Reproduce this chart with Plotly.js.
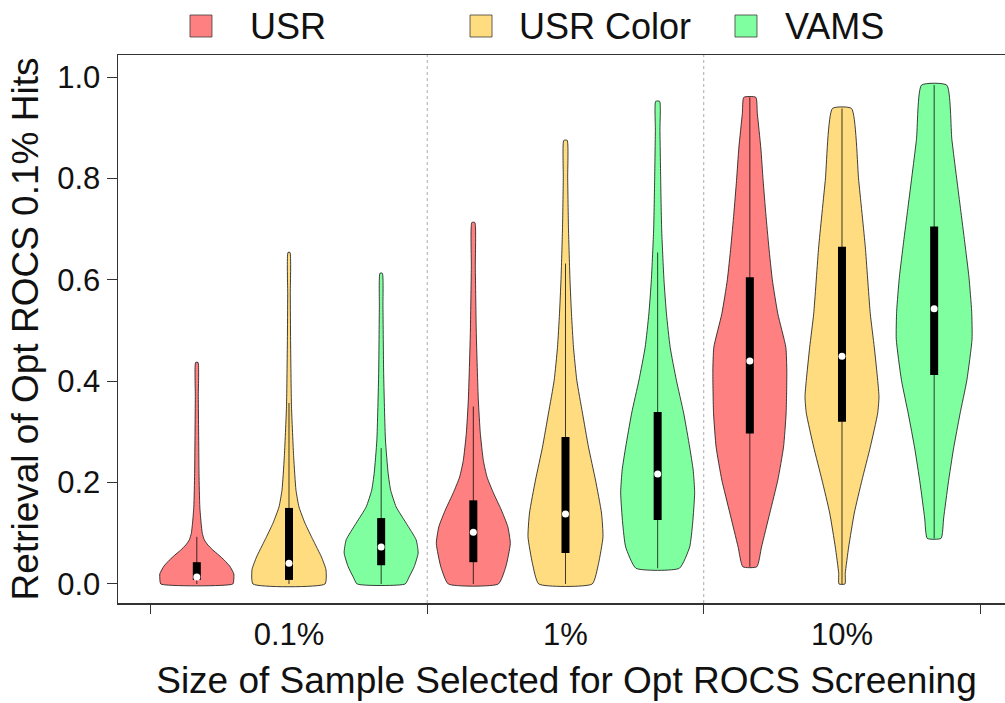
<!DOCTYPE html>
<html>
<head>
<meta charset="utf-8">
<script src="https://cdn.plot.ly/plotly-3.0.1.min.js"></script>
<style>
html,body{margin:0;padding:0;overflow:hidden;background:#fff;}
#chart{width:1015px;height:703px;}
</style>
</head>
<body>
<div id="chart"></div>
<script>
// ---- categories / series ----
const groups = ['0.1%', '1%', '10%'];
const seriesNames = ['USR', 'USR Color', 'VAMS'];
const seriesColors = ['#FF8080', '#FFDC80', '#80FFA0'];

// ---- violin density profiles (value levels, relative half-width) ----
// USR
const usr_g1_y = [0, 0.01, 0.02, 0.035, 0.047, 0.057, 0.067, 0.077, 0.087, 0.1, 0.12, 0.152, 0.218, 0.3, 0.37, 0.437];
const usr_g1_w = [36, 37, 37, 33, 27.5, 22, 16, 11, 7.5, 5.5, 4.3, 3, 2.2, 1.8, 1.5, 1.2];
const usr_g2_y = [0, 0.034, 0.08, 0.113, 0.146, 0.18, 0.211, 0.244, 0.297, 0.363, 0.494, 0.625, 0.713];
const usr_g2_w = [25, 32.5, 37, 34.5, 28, 20, 13.7, 10, 7, 5, 3, 2, 1.5];
const usr_g3_y = [0.034, 0.073, 0.14, 0.205, 0.27, 0.337, 0.42, 0.467, 0.533, 0.6, 0.665, 0.73, 0.796, 0.86, 0.928, 0.96];
const usr_g3_w = [7, 11.7, 20, 28, 33.7, 36.3, 37, 36, 28, 22.5, 19, 16, 13.3, 11, 7.5, 6];
// USR Color
const usrc_g1_y = [0, 0.028, 0.053, 0.087, 0.12, 0.152, 0.185, 0.25, 0.35, 0.48, 0.57, 0.654];
const usrc_g1_w = [36, 37, 32.5, 24, 16, 10, 7, 4.7, 2.5, 1.6, 1.3, 1];
const usrc_g2_y = [0, 0.04, 0.093, 0.14, 0.205, 0.27, 0.337, 0.402, 0.467, 0.533, 0.6, 0.7, 0.8, 0.875];
const usrc_g2_w = [26.7, 33, 37.5, 36, 30, 23, 17, 11.3, 8, 6, 4.5, 3, 2.2, 1.7];
const usrc_g3_y = [0, 0.021, 0.073, 0.14, 0.205, 0.27, 0.337, 0.369, 0.402, 0.467, 0.533, 0.665, 0.796, 0.938];
const usrc_g3_w = [3, 3.3, 6.7, 12.3, 20, 28.3, 35.7, 37, 35.7, 32.3, 28.3, 23.3, 16.7, 9.5];
// VAMS
const vams_g1_y = [0, 0.014, 0.034, 0.061, 0.087, 0.12, 0.152, 0.185, 0.218, 0.284, 0.415, 0.546, 0.613];
const vams_g1_w = [24, 28, 33, 37, 35, 25, 15, 9.5, 7, 4.3, 2.5, 1.8, 1.2];
const vams_g2_y = [0.031, 0.073, 0.12, 0.18, 0.225, 0.27, 0.337, 0.402, 0.467, 0.533, 0.6, 0.7, 0.8, 0.895, 0.952];
const vams_g2_w = [21.7, 32, 35, 37, 35.5, 32, 26, 18.7, 12.5, 8.8, 6.3, 4, 3, 2.3, 2];
const vams_g3_y = [0.09, 0.13, 0.199, 0.266, 0.335, 0.402, 0.483, 0.538, 0.605, 0.674, 0.741, 0.877, 0.984];
const vams_g3_w = [6.9, 9.5, 14.1, 19.3, 25.8, 32.7, 37.9, 37.5, 34.8, 30.6, 26.3, 17.7, 12.6];

// ---- box statistics per group (0.1%, 1%, 10%) ----
const usr_q1  = [0.008, 0.043, 0.297];
const usr_med = [0.014, 0.102, 0.44];
const usr_q3  = [0.043, 0.165, 0.605];
const usr_wlo = [0, 0, 0.034];
const usr_whi = [0.093, 0.35, 0.96];

const usrc_q1  = [0.008, 0.061, 0.32];
const usrc_med = [0.041, 0.138, 0.449];
const usrc_q3  = [0.15, 0.29, 0.665];
const usrc_wlo = [0, 0, 0];
const usrc_whi = [0.357, 0.632, 0.938];

const vams_q1  = [0.037, 0.126, 0.412];
const vams_med = [0.073, 0.217, 0.543];
const vams_q3  = [0.13, 0.339, 0.705];
const vams_wlo = [0, 0.031, 0.09];
const vams_whi = [0.268, 0.654, 0.984];

const yTicks = [0, 0.2, 0.4, 0.6, 0.8, 1.0];

// ---- assemble ----
const profiles = [
  [[usr_g1_y, usr_g1_w], [usr_g2_y, usr_g2_w], [usr_g3_y, usr_g3_w]],
  [[usrc_g1_y, usrc_g1_w], [usrc_g2_y, usrc_g2_w], [usrc_g3_y, usrc_g3_w]],
  [[vams_g1_y, vams_g1_w], [vams_g2_y, vams_g2_w], [vams_g3_y, vams_g3_w]]
];
const stats = [
  {q1: usr_q1, med: usr_med, q3: usr_q3, lo: usr_wlo, hi: usr_whi},
  {q1: usrc_q1, med: usrc_med, q3: usrc_q3, lo: usrc_wlo, hi: usrc_whi},
  {q1: vams_q1, med: vams_med, q3: vams_q3, lo: vams_wlo, hi: vams_whi}
];

const widthScale = 1 / 276.5;   // relative width -> x-axis units
const offset = 1 / 3;           // dodge between series within a group

const traces = [];
const wx = [], wy = [], bx = [], by = [], mx = [], my = [];
for (let s = 0; s < seriesNames.length; s++) {
  for (let g = 0; g < groups.length; g++) {
    const c = (g + 1) + (s - 1) * offset;
    const [py, pw] = profiles[s][g];
    const xs = [], ys = [];
    for (let i = 0; i < py.length; i++) { xs.push(c - pw[i] * widthScale); ys.push(py[i]); }
    for (let i = py.length - 1; i >= 0; i--) { xs.push(c + pw[i] * widthScale); ys.push(py[i]); }
    xs.push(xs[0]); ys.push(ys[0]);
    traces.push({
      type: 'scatter', mode: 'lines', x: xs, y: ys,
      fill: 'toself', fillcolor: seriesColors[s],
      line: {color: 'rgba(30,30,30,0.85)', width: 1, shape: 'spline', smoothing: 0.5},
      name: seriesNames[s], legendgroup: seriesNames[s], showlegend: false, hoverinfo: 'skip'
    });
    const st = stats[s];
    wx.push(c, c, null); wy.push(st.lo[g], st.hi[g], null);
    bx.push(c, c, null); by.push(st.q1[g], st.q3[g], null);
    mx.push(c); my.push(st.med[g]);
  }
}
traces.push({type: 'scatter', mode: 'lines', x: wx, y: wy, line: {color: 'rgba(0,0,0,0.75)', width: 1}, showlegend: false, hoverinfo: 'skip'});
traces.push({type: 'scatter', mode: 'lines', x: bx, y: by, line: {color: '#000', width: 8}, showlegend: false, hoverinfo: 'skip'});
traces.push({type: 'scatter', mode: 'markers', x: mx, y: my, marker: {color: '#fff', size: 7, line: {width: 0}}, showlegend: false, hoverinfo: 'skip'});

// legend (drawn as shapes + annotations above the plot)
const legendBoxX = [0.0925, 0.4047, 0.7001];
const legendTextX = [0.1449, 0.4448, 0.7413];
const legendY = 1.0529;
const shapes = [];
const annotations = [];
for (let s = 0; s < seriesNames.length; s++) {
  shapes.push({type: 'rect', xref: 'paper', yref: 'paper', xsizemode: 'pixel', ysizemode: 'pixel',
    xanchor: legendBoxX[s], yanchor: legendY, x0: -11, x1: 11, y0: -11, y1: 11,
    fillcolor: seriesColors[s], line: {color: 'rgba(60,60,60,0.8)', width: 1}});
  annotations.push({xref: 'paper', yref: 'paper', x: legendTextX[s], y: legendY, xanchor: 'left', yanchor: 'middle',
    text: seriesNames[s], showarrow: false, font: {size: 36, color: '#111'}});
}
// group separators
[1.5, 2.5].forEach(v => shapes.push({type: 'line', xref: 'x', yref: 'paper', x0: v, x1: v, y0: 0, y1: 1,
  line: {color: '#aaa', width: 1, dash: 'dot'}, layer: 'below'}));

const layout = {
  width: 1015, height: 703,
  margin: {l: 118, r: 0, t: 55, b: 100},
  paper_bgcolor: '#fff', plot_bgcolor: '#fff',
  font: {family: '"Liberation Sans", Arial, sans-serif', color: '#111'},
  showlegend: false,
  xaxis: {
    range: [0.3816, 3.6257], showgrid: false, zeroline: false,
    showline: true, mirror: true, linecolor: '#333', linewidth: 1.5,
    tickmode: 'array', tickvals: [1, 2, 3], ticktext: groups,
    ticks: 'outside', ticklen: 3, tickcolor: 'rgba(0,0,0,0)',
    tickfont: {size: 31},
    minor: {tickmode: 'array', tickvals: [0.5, 1.5, 2.5, 3.5], ticks: 'outside', ticklen: 9, tickwidth: 1, tickcolor: '#333', showgrid: false},
    title: {text: 'Size of Sample Selected for Opt ROCS Screening', font: {size: 37}, standoff: 16}
  },
  yaxis: {
    range: [-0.0375, 1.0434], showgrid: false, zeroline: false,
    showline: true, mirror: true, linecolor: '#333', linewidth: 1.5,
    tickmode: 'array', tickvals: yTicks, tickformat: '.1f',
    ticks: 'outside', ticklen: 10, tickwidth: 1, tickcolor: '#333',
    tickfont: {size: 31},
    title: {text: 'Retrieval of Opt ROCS 0.1% Hits', font: {size: 37}, standoff: 7}
  },
  shapes: shapes,
  annotations: annotations
};

Plotly.newPlot('chart', traces, layout, {staticPlot: true, displayModeBar: false});
</script>
</body>
</html>
